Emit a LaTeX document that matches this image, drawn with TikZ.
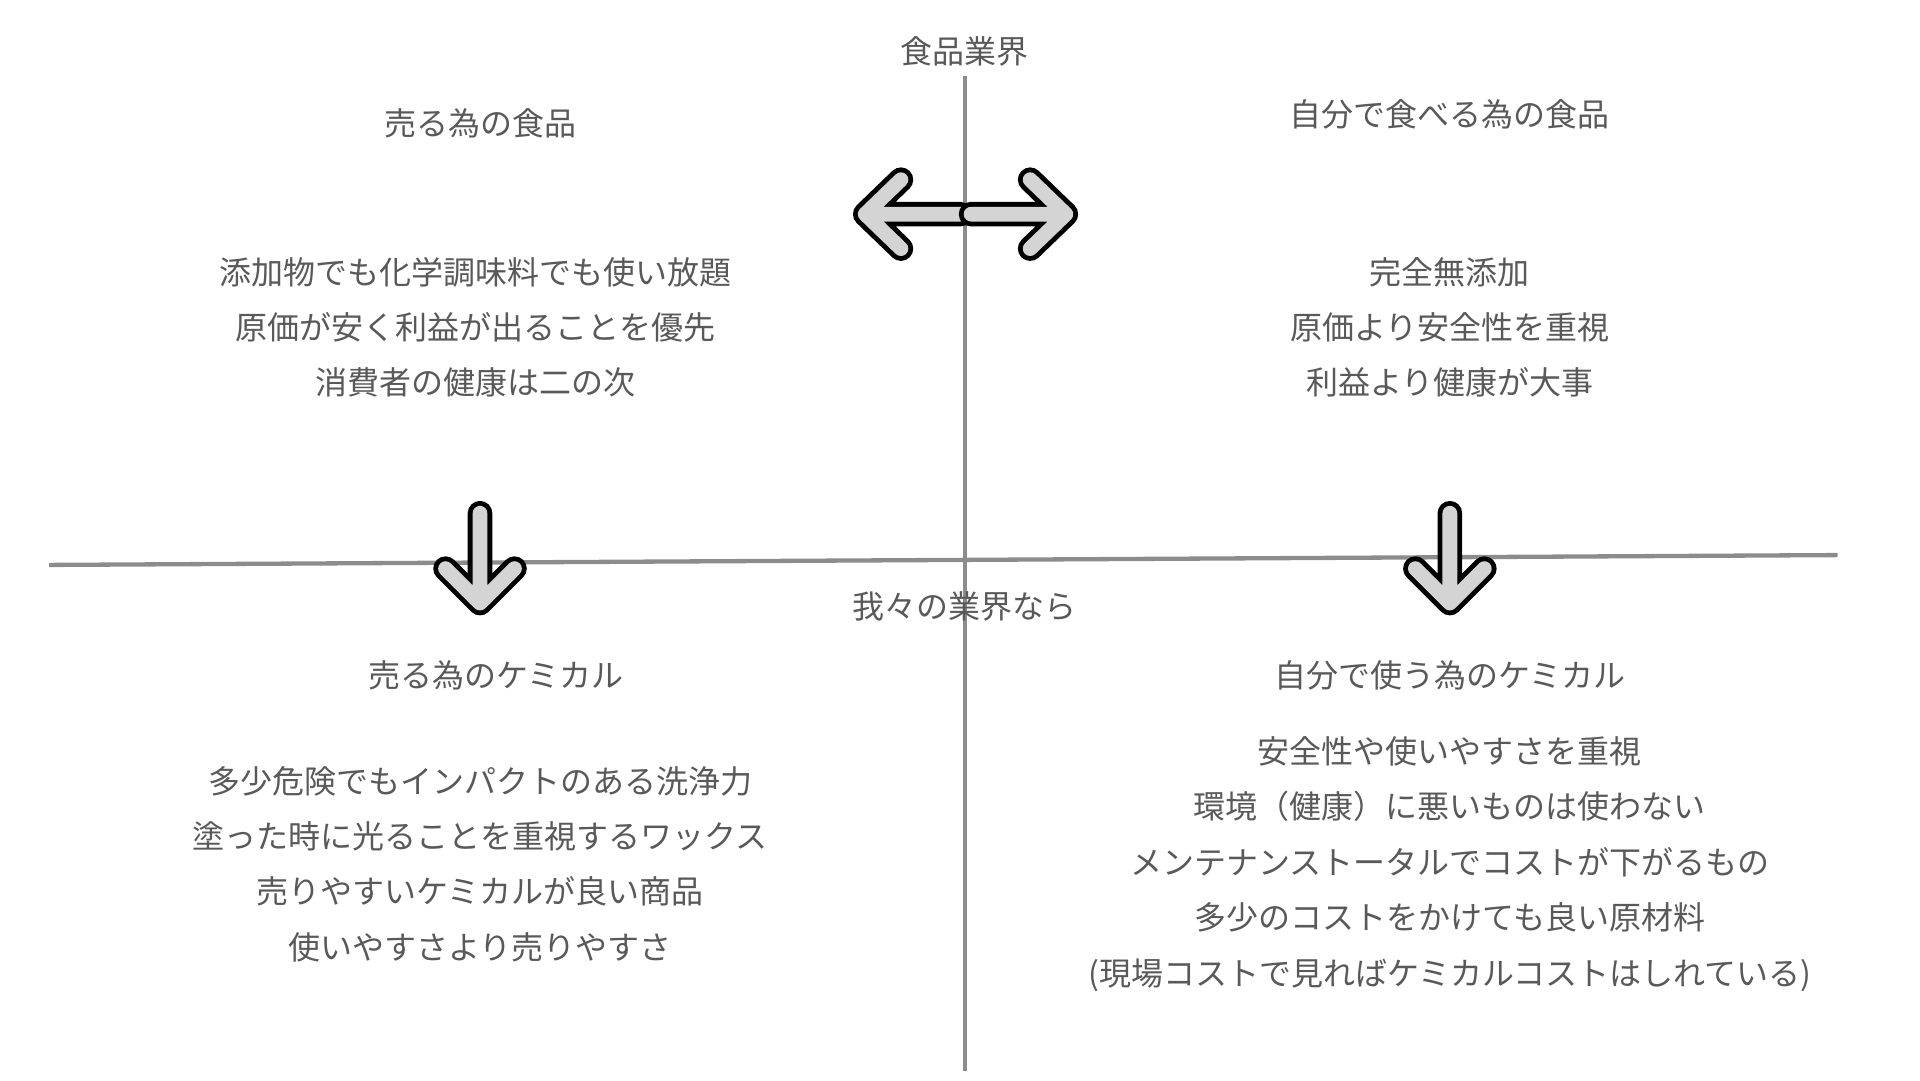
\documentclass[tikz,border=0pt]{standalone}
\usepackage{fontspec}
\setmainfont{Noto Sans CJK JP}
\begin{document}
\begin{tikzpicture}[x=1pt,y=-1pt,
  txt/.style={text=black!65,font=\fontsize{26}{45}\selectfont,align=center,inner sep=0pt},
  axis/.style={draw=black!45,line width=3.5pt},
  arrout/.style={line width=20pt,line cap=round,line join=round,draw=black},
  arrin/.style={line width=12pt,line cap=round,line join=round,draw=black!17}]
\useasboundingbox (0,0) rectangle (1560,878);
\coordinate (hl) at (40,459); \coordinate (hr) at (1493,451);
\coordinate (vt) at (784,62); \coordinate (vb) at (784,870);
\draw[axis] (hl) -- (hr);
\draw[axis] (vt) -- (vb);
% arrows
\def\fatarrow#1{\draw[arrout] #1; \draw[arrin] #1;}
\fatarrow{(780,174) -- (703,174) (732,146) -- (703,174) -- (732,202)}
\fatarrow{(789,174) -- (866,174) (837,146) -- (866,174) -- (837,202)}
\fatarrow{(390,417) -- (390,490) (362,462) -- (390,490) -- (418,462)}
\fatarrow{(1178,417) -- (1178,490) (1150,462) -- (1178,490) -- (1206,462)}
% texts
\node[txt] (t0) at (784,42) {食品業界};
\node[txt] (t1) at (390,100) {売る為の食品};
\node[txt] (t2) at (1178,93) {自分で食べる為の食品};
\node[txt] (t3) at (386,266) {添加物でも化学調味料でも使い放題\\原価が安く利益が出ることを優先\\消費者の健康は二の次};
\node[txt] (t4) at (1178,266) {完全無添加\\原価より安全性を重視\\利益より健康が大事};
\node[txt] (t5) at (784,493) {我々の業界なら};
\node[txt] (t6) at (403,549) {売る為のケミカル};
\node[txt] (t7) at (1178,549) {自分で使う為のケミカル};
\node[txt] (t8) at (390,702) {多少危険でもインパクトのある洗浄力\\塗った時に光ることを重視するワックス\\売りやすいケミカルが良い商品\\使いやすさより売りやすさ};
\node[txt] (t9) at (1178,702) {安全性や使いやすさを重視\\環境（健康）に悪いものは使わない\\メンテナンストータルでコストが下がるもの\\多少のコストをかけても良い原材料\\(現場コストで見ればケミカルコストはしれている)};
\end{tikzpicture}
\end{document}
